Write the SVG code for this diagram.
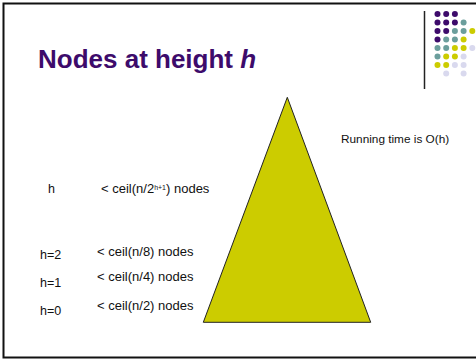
<svg xmlns="http://www.w3.org/2000/svg" width="476" height="359" viewBox="0 0 476 359">
<style>
.t{font-family:"Liberation Sans",Arial,sans-serif;fill:#111;font-size:12.5px}
.r{font-size:13px}
.title{font-family:"Liberation Sans",Arial,sans-serif;font-weight:bold;font-size:26px;fill:#3d0b6b}
.p{fill:#3d0b6b}.g{fill:#6b9e9c}.y{fill:#cccc00}.l{fill:#d9d9ee}
</style>
<rect width="476" height="359" fill="#fff"/>
<rect x="3.5" y="3.5" width="490" height="354" fill="none" stroke="#111" stroke-width="2"/>
<g id="decoration">
<line x1="424.5" y1="11" x2="424.5" y2="89" stroke="#222" stroke-width="1.5"/>
<g>
<circle class="p" cx="437.5" cy="14" r="3"/><circle class="p" cx="446.2" cy="14" r="3"/><circle class="p" cx="454.9" cy="14" r="3"/>
<circle class="p" cx="437.5" cy="22.5" r="3"/><circle class="p" cx="446.2" cy="22.5" r="3"/><circle class="p" cx="454.9" cy="22.5" r="3"/><circle class="g" cx="463.6" cy="22.5" r="3"/>
<circle class="p" cx="437.5" cy="31" r="3"/><circle class="p" cx="446.2" cy="31" r="3"/><circle class="g" cx="454.9" cy="31" r="3"/><circle class="g" cx="463.6" cy="31" r="3"/><circle class="y" cx="472.3" cy="31" r="3"/>
<circle class="p" cx="437.5" cy="39.5" r="3"/><circle class="g" cx="446.2" cy="39.5" r="3"/><circle class="g" cx="454.9" cy="39.5" r="3"/><circle class="y" cx="463.6" cy="39.5" r="3"/>
<circle class="g" cx="437.5" cy="48" r="3"/><circle class="g" cx="446.2" cy="48" r="3"/><circle class="y" cx="454.9" cy="48" r="3"/><circle class="y" cx="463.6" cy="48" r="3"/><circle class="l" cx="472.3" cy="48" r="3"/>
<circle class="g" cx="437.5" cy="56.5" r="3"/><circle class="y" cx="446.2" cy="56.5" r="3"/><circle class="y" cx="454.9" cy="56.5" r="3"/><circle class="l" cx="463.6" cy="56.5" r="3"/>
<circle class="y" cx="437.5" cy="65" r="3"/><circle class="y" cx="446.2" cy="65" r="3"/><circle class="l" cx="454.9" cy="65" r="3"/><circle class="l" cx="463.6" cy="65" r="3"/>
<circle class="l" cx="446.2" cy="73.5" r="3"/><circle class="l" cx="463.6" cy="73.5" r="3"/>
</g>
</g>
<g id="title"><text class="title" x="38" y="68">Nodes at height <tspan font-style="italic">h</tspan></text></g>
<g id="tree"><polygon points="287.3,97.3 203.3,322.3 370.7,322.3" fill="#cccc00" stroke="#222" stroke-width="1"/></g>
<g id="running"><text class="t" x="341" y="142.5" style="font-size:11.8px">Running time is O(h)</text></g>
<g id="row-h">
<text class="t" x="48" y="193">h</text>
<text class="t r" x="101" y="193">&lt; ceil(n/2<tspan font-size="7" dy="-3.5">h+1</tspan><tspan dy="3.5">) nodes</tspan></text>
</g>
<g id="row-2">
<text class="t" x="40" y="259">h=2</text>
<text class="t r" x="97" y="256">&lt; ceil(n/8) nodes</text>
</g>
<g id="row-1">
<text class="t" x="40" y="287">h=1</text>
<text class="t r" x="97" y="281">&lt; ceil(n/4) nodes</text>
</g>
<g id="row-0">
<text class="t" x="40" y="315">h=0</text>
<text class="t r" x="97" y="309.5">&lt; ceil(n/2) nodes</text>
</g>
</svg>
